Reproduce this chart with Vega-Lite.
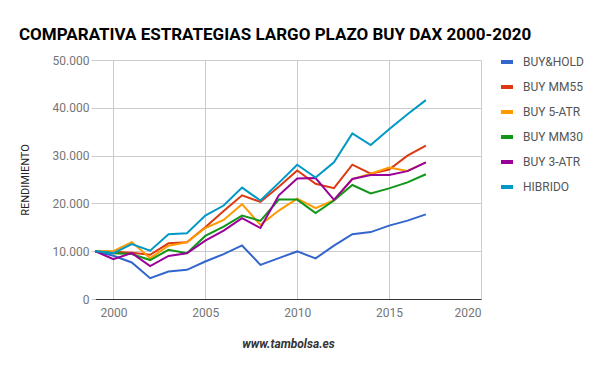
{
  "$schema": "https://vega.github.io/schema/vega-lite/v6.json",
  "width": 386,
  "height": 239,
  "autosize": {"type": "none"},
  "padding": {"left": 95, "top": 60, "right": 119, "bottom": 72},
  "background": "white",
  "title": {
    "text": "COMPARATIVA ESTRATEGIAS LARGO PLAZO BUY DAX 2000-2020",
    "anchor": "start",
    "frame": "group",
    "font": "Roboto",
    "fontSize": 17,
    "fontWeight": "bold",
    "color": "#000000",
    "baseline": "alphabetic",
    "offset": 22,
    "dx": -76,
    "dy": 25
  },
  "config": {
    "locale": {"number": {"decimal": ",", "thousands": ".", "grouping": [3], "currency": ["", "€"]}},
    "view": {"stroke": null},
    "font": "Roboto"
  },
  "data": {
    "values": [
      {"year": 1999, "BUY&HOLD": 10000, "BUY MM55": 10000, "BUY 5-ATR": 10000, "BUY MM30": 10000, "BUY 3-ATR": 10000, "HIBRIDO": 10000},
      {"year": 2000, "BUY&HOLD": 9050, "BUY MM55": 9900, "BUY 5-ATR": 10000, "BUY MM30": 9550, "BUY 3-ATR": 8350, "HIBRIDO": 9600},
      {"year": 2001, "BUY&HOLD": 7640, "BUY MM55": 9700, "BUY 5-ATR": 11900, "BUY MM30": 9400, "BUY 3-ATR": 9600, "HIBRIDO": 11500},
      {"year": 2002, "BUY&HOLD": 4350, "BUY MM55": 9250, "BUY 5-ATR": 8550, "BUY MM30": 8150, "BUY 3-ATR": 6900, "HIBRIDO": 10100},
      {"year": 2003, "BUY&HOLD": 5750, "BUY MM55": 11650, "BUY 5-ATR": 11150, "BUY MM30": 10300, "BUY 3-ATR": 9000, "HIBRIDO": 13550},
      {"year": 2004, "BUY&HOLD": 6100, "BUY MM55": 11850, "BUY 5-ATR": 11850, "BUY MM30": 9600, "BUY 3-ATR": 9550, "HIBRIDO": 13750},
      {"year": 2005, "BUY&HOLD": 7850, "BUY MM55": 15000, "BUY 5-ATR": 14850, "BUY MM30": 13200, "BUY 3-ATR": 12200, "HIBRIDO": 17450},
      {"year": 2006, "BUY&HOLD": 9400, "BUY MM55": 18400, "BUY 5-ATR": 16550, "BUY MM30": 15150, "BUY 3-ATR": 14300, "HIBRIDO": 19550},
      {"year": 2007, "BUY&HOLD": 11200, "BUY MM55": 21700, "BUY 5-ATR": 19850, "BUY MM30": 17450, "BUY 3-ATR": 16900, "HIBRIDO": 23300},
      {"year": 2008, "BUY&HOLD": 7150, "BUY MM55": 20300, "BUY 5-ATR": 15500, "BUY MM30": 16350, "BUY 3-ATR": 14850, "HIBRIDO": 20600},
      {"year": 2009, "BUY&HOLD": 8550, "BUY MM55": 23500, "BUY 5-ATR": 18500, "BUY MM30": 20800, "BUY 3-ATR": 21700, "HIBRIDO": 24300},
      {"year": 2010, "BUY&HOLD": 9950, "BUY MM55": 26900, "BUY 5-ATR": 21000, "BUY MM30": 20800, "BUY 3-ATR": 25200, "HIBRIDO": 28100},
      {"year": 2011, "BUY&HOLD": 8500, "BUY MM55": 24100, "BUY 5-ATR": 19000, "BUY MM30": 18000, "BUY 3-ATR": 25300, "HIBRIDO": 25400},
      {"year": 2012, "BUY&HOLD": 11150, "BUY MM55": 23200, "BUY 5-ATR": 20700, "BUY MM30": 20600, "BUY 3-ATR": 20750, "HIBRIDO": 28600},
      {"year": 2013, "BUY&HOLD": 13550, "BUY MM55": 28100, "BUY 5-ATR": 25100, "BUY MM30": 23850, "BUY 3-ATR": 25100, "HIBRIDO": 34650},
      {"year": 2014, "BUY&HOLD": 14000, "BUY MM55": 26200, "BUY 5-ATR": 26200, "BUY MM30": 22100, "BUY 3-ATR": 25950, "HIBRIDO": 32200},
      {"year": 2015, "BUY&HOLD": 15350, "BUY MM55": 27100, "BUY 5-ATR": 27500, "BUY MM30": 23150, "BUY 3-ATR": 25950, "HIBRIDO": 35500},
      {"year": 2016, "BUY&HOLD": 16400, "BUY MM55": 30000, "BUY 5-ATR": 26800, "BUY MM30": 24400, "BUY 3-ATR": 26750, "HIBRIDO": 38650},
      {"year": 2017, "BUY&HOLD": 17700, "BUY MM55": 32100, "BUY 5-ATR": 28600, "BUY MM30": 26100, "BUY 3-ATR": 28600, "HIBRIDO": 41600}
    ]
  },
  "transform": [
    {"fold": ["BUY&HOLD", "BUY MM55", "BUY 5-ATR", "BUY MM30", "BUY 3-ATR", "HIBRIDO"], "as": ["serie", "valor"]}
  ],
  "mark": {"type": "line", "strokeWidth": 2, "strokeJoin": "miter"},
  "encoding": {
    "x": {
      "field": "year",
      "type": "quantitative",
      "scale": {"domain": [1999, 2020], "nice": false, "zero": false},
      "axis": {
        "title": "www.tambolsa.es",
        "titleFont": "Roboto",
        "titleFontSize": 12,
        "titleFontWeight": "bold",
        "titleFontStyle": "italic",
        "titleColor": "#333333",
        "titlePadding": 20,
        "values": [2000, 2005, 2010, 2015, 2020],
        "format": "d",
        "labelFont": "Roboto",
        "labelFontSize": 12,
        "labelColor": "#757575",
        "labelPadding": 8,
        "ticks": false,
        "domainColor": "#333333",
        "domainWidth": 1,
        "gridColor": "#cccccc",
        "gridWidth": 1
      }
    },
    "y": {
      "field": "valor",
      "type": "quantitative",
      "scale": {"domain": [0, 50000], "nice": false},
      "axis": {
        "title": "RENDIMIENTO",
        "titleFont": "Roboto",
        "titleFontSize": 11,
        "titleFontWeight": "normal",
        "titleColor": "#222222",
        "titlePadding": 22,
        "values": [0, 10000, 20000, 30000, 40000, 50000],
        "format": ",d",
        "labelFont": "Roboto",
        "labelFontSize": 12,
        "labelColor": "#757575",
        "labelPadding": 2,
        "tickSize": 4,
        "tickColor": "#cccccc",
        "domain": false,
        "gridColor": "#cccccc",
        "gridWidth": 1
      }
    },
    "color": {
      "field": "serie",
      "type": "nominal",
      "sort": ["BUY&HOLD", "BUY MM55", "BUY 5-ATR", "BUY MM30", "BUY 3-ATR", "HIBRIDO"],
      "scale": {
        "domain": ["BUY&HOLD", "BUY MM55", "BUY 5-ATR", "BUY MM30", "BUY 3-ATR", "HIBRIDO"],
        "range": ["#3366cc", "#dc3912", "#ff9900", "#109618", "#990099", "#0099c6"]
      },
      "legend": {
        "title": null,
        "orient": "none",
        "legendX": 404,
        "legendY": -6,
        "symbolType": "stroke",
        "symbolStrokeWidth": 4,
        "symbolSize": 144,
        "labelFont": "Roboto",
        "labelFontSize": 12,
        "labelColor": "#555555",
        "labelOffset": 8,
        "rowPadding": 9
      }
    }
  }
}
